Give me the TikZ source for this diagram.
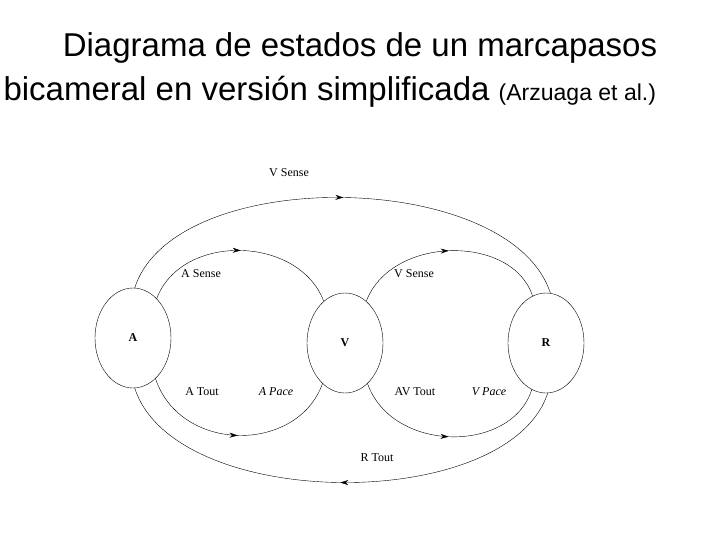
\documentclass[tikz,border=0pt]{standalone}
\usepackage{fontspec}
\setmainfont{Liberation Serif}
\newfontfamily\titlefont{Liberation Sans}
\usetikzlibrary{shapes.geometric,arrows.meta,decorations.markings}

\begin{document}
\begin{tikzpicture}[x=1pt,y=-1pt]
	\tikzstyle{state}=[ellipse, draw, minimum width=76pt, minimum height=100pt, inner sep=0pt, font=\bfseries\fontsize{12}{14}\selectfont]
	\tikzstyle{lbl}=[font=\fontsize{12}{14}\selectfont]
	\tikzstyle{trans}=[thin, postaction={decorate}, decoration={markings, mark=at position 0.5 with {\arrow{Stealth[length=8pt,width=5pt]}}}]
	\useasboundingbox (0,0) rectangle (720,540);
	\node[font=\titlefont\fontsize{33}{38}\selectfont] (t1) at (360,48) {Diagrama de estados de un marcapasos};
	\node[font=\titlefont\fontsize{33}{38}\selectfont, anchor=west] (t2) at (0,92) {bicameral en versión simplificada {\fontsize{23}{26}\selectfont(Arzuaga et al.)}};
	\node[state] (A) at (133,338) {A};
	\node[state] (V) at (345,343) {V};
	\node[state] (R) at (546,343) {R};
	% upper transitions
	\draw[trans] (A.88) .. controls +(40,-124) and +(-40,-124) .. (R.85);
	\draw[trans] (A.59) .. controls +(25,-66) and +(-25,-66) .. (V.117);
	\draw[trans] (V.63) .. controls +(25,-66) and +(-20,-62) .. (R.106);
	% lower transitions
	\draw[trans] (A.-61) .. controls +(25,75) and +(-25,70) .. (V.-119);
	\draw[trans] (V.-61) .. controls +(25,70) and +(-20,64) .. (R.-107);
	\draw[trans] (R.-88) .. controls +(-40,121) and +(40,124) .. (A.-88);
	% labels
	\node[lbl] (vs1) at (289,173) {V Sense};
	\node[lbl] (as) at (201,274) {A Sense};
	\node[lbl] (vs2) at (414,274) {V Sense};
	\node[lbl] (at) at (202,392) {A Tout};
	\node[lbl] (ap) at (276,392) {\itshape A Pace};
	\node[lbl] (avt) at (415,392) {AV Tout};
	\node[lbl] (vp) at (489,392) {\itshape V Pace};
	\node[lbl] (rt) at (377,458) {R Tout};
\end{tikzpicture}
\end{document}
